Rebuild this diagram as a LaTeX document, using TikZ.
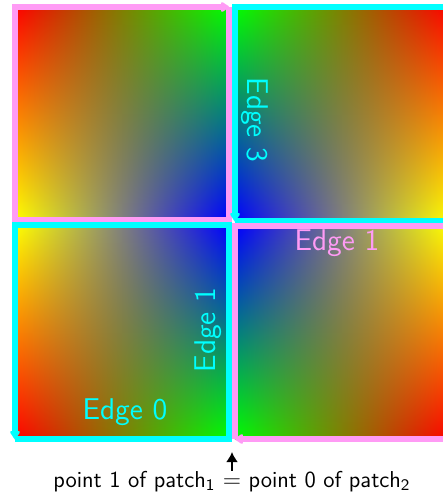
\documentclass[tikz,border=0pt]{standalone}
\usetikzlibrary{arrows.meta}
\renewcommand\familydefault{\sfdefault}

\definecolor{edgepink}{RGB}{255,155,245}
\definecolor{edgecyan}{RGB}{0,255,255}

% x y -> u v in [0,1] (inner 25bp..75bp square is the path)
\newcommand\patchuv{25 sub 50 div dup 0 lt {pop 0} if dup 1 gt {pop 1} if exch 25 sub 50 div dup 0 lt {pop 0} if dup 1 gt {pop 1} if exch}
% u v -> r g b, red top left, green top right, yellow bottom left, blue bottom right
\newcommand\patchrgb{1 index 1 exch sub 2 index 1 exch sub 2 index 1 exch sub mul 3 index 3 index mul add 2 index 1 exch sub 4 index mul 5 -2 roll pop pop}

\pgfdeclarefunctionalshading{patchA}{\pgfpointorigin}{\pgfpoint{100bp}{100bp}}{}{\patchuv\space \patchrgb}
\pgfdeclarefunctionalshading{patchB}{\pgfpointorigin}{\pgfpoint{100bp}{100bp}}{}{\patchuv\space exch 1 exch sub exch \patchrgb}
\pgfdeclarefunctionalshading{patchC}{\pgfpointorigin}{\pgfpoint{100bp}{100bp}}{}{\patchuv\space 1 exch sub \patchrgb}
\pgfdeclarefunctionalshading{patchD}{\pgfpointorigin}{\pgfpoint{100bp}{100bp}}{}{\patchuv\space 1 exch sub exch 1 exch sub exch \patchrgb}

\tikzset{
  pinkedge/.style={draw=edgepink,line width=2.6pt,-{Triangle[round,length=4.5pt,width=5.5pt]}},
  cyanedge/.style={draw=edgecyan,line width=2.6pt,-{Triangle[round,length=4.5pt,width=5.5pt]}},
  edgelabel/.style={font=\fontsize{15}{17}\selectfont,inner sep=1pt}
}

\begin{document}
\begin{tikzpicture}[x=0.5pt,y=0.5pt]
\useasboundingbox (0,0) rectangle (443,495);
\clip (0,0) rectangle (443,495);
% the four patches
\shade[shading=patchA] (15,275) rectangle (229,488);
\shade[shading=patchB] (235,274) rectangle (449,488);
\shade[shading=patchC] (15,56) rectangle (229,270);
\shade[shading=patchD] (235,56) rectangle (449,269);
% their edges
\draw[pinkedge] (229,488) -- (229,275) -- (15,275) -- (15,488) -- (229,488);
\draw[cyanedge] (235,274) -- (449,274) -- (449,488) -- (235,488) -- (235,274);
\draw[cyanedge] (15,56) -- (229,56) -- (229,270) -- (15,270) -- (15,56);
\draw[pinkedge] (235,56) -- (235,269) -- (449,269) -- (449,56) -- (235,56);
% labels
\node[edgelabel,text=edgecyan,rotate=-90] (edgeTR) at (255,375) {Edge 3};
\node[edgelabel,text=edgepink] (edgeBR) at (337,252) {Edge 1};
\node[edgelabel,text=edgecyan,rotate=90] (edgeBLr) at (208,165) {Edge 1};
\node[edgelabel,text=edgecyan] (edgeBLb) at (125,83) {Edge 0};
% shared point
\coordinate (joint) at (232,43);
\node[font=\fontsize{11.5}{13}\selectfont,anchor=base,inner sep=0pt,outer sep=0pt] (note) at (232,8) {point 1 of patch\textsubscript{1} $=$ point 0 of patch\textsubscript{2}};
\draw[line width=1.4pt,-{Latex[length=5pt,width=6pt]}] (note.north) -- (joint);
\end{tikzpicture}
\end{document}
